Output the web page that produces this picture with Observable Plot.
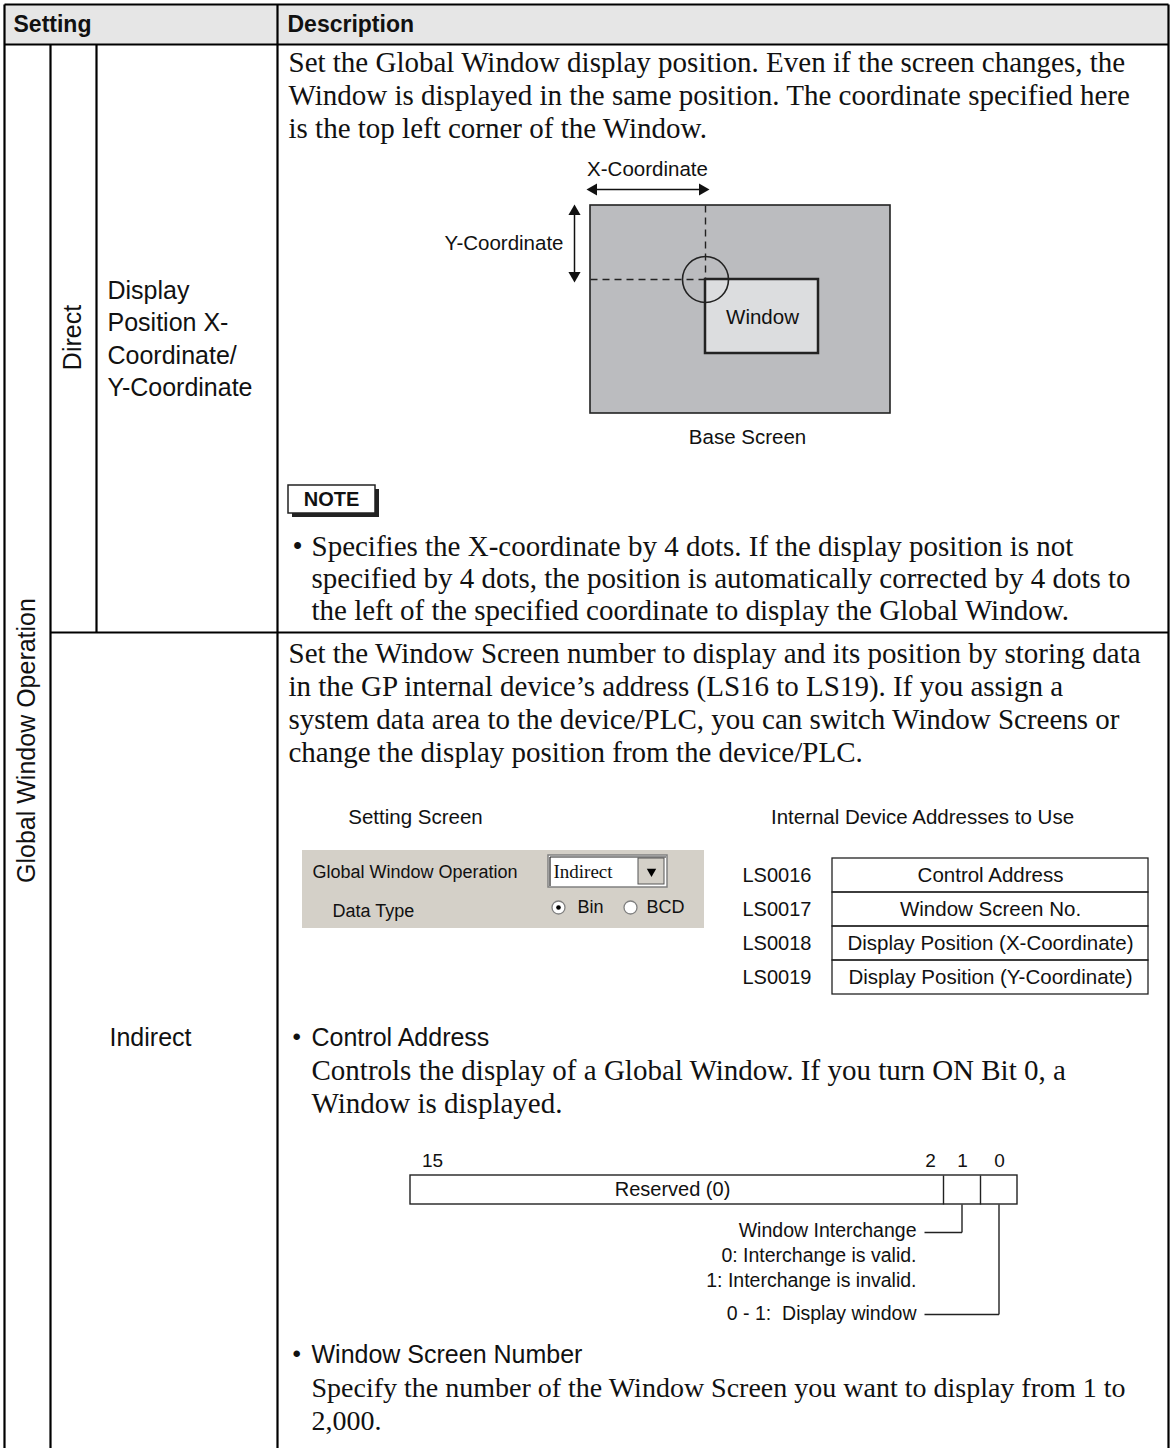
<!DOCTYPE html>
<html><head><meta charset="utf-8">
<script src="https://cdn.jsdelivr.net/npm/d3@7"></script>
<script src="https://cdn.jsdelivr.net/npm/@observablehq/plot@0.6"></script>
<style>html,body{margin:0;padding:0;background:#fff;} svg{display:block;}</style>
</head><body><div id="chart"></div>
<script>
// ---------- content ----------
const headerLabels = ["Setting", "Description"];
const groupLabel = ["Global Window Operation"];
const modeLabels = ["Direct", "Indirect"];
const directItemLines = ["Display", "Position X-", "Coordinate/", "Y-Coordinate"];
const directDescLines = [
  "Set the Global Window display position. Even if the screen changes, the",
  "Window is displayed in the same position. The coordinate specified here",
  "is the top left corner of the Window."];
const diagramLabels = ["X-Coordinate", "Y-Coordinate", "Window", "Base Screen"];
const noteLabel = ["NOTE"];
const noteLines = [
  "Specifies the X-coordinate by 4 dots. If the display position is not",
  "specified by 4 dots, the position is automatically corrected by 4 dots to",
  "the left of the specified coordinate to display the Global Window."];
const indirectDescLines = [
  "Set the Window Screen number to display and its position by storing data",
  "in the GP internal device\u2019s address (LS16 to LS19). If you assign a",
  "system data area to the device/PLC, you can switch Window Screens or",
  "change the display position from the device/PLC."];
const figureTitles = ["Setting Screen", "Internal Device Addresses to Use"];
const panelLabels = ["Global Window Operation", "Data Type"];
const dropdownValue = ["Indirect"];
const radioOptions = ["Bin", "BCD"];
const addressIds = ["LS0016", "LS0017", "LS0018", "LS0019"];
const addressNames = ["Control Address", "Window Screen No.", "Display Position (X-Coordinate)", "Display Position (Y-Coordinate)"];
const controlHeading = ["Control Address"];
const controlDescLines = ["Controls the display of a Global Window. If you turn ON Bit 0, a", "Window is displayed."];
const bitNumbers = ["15", "2", "1", "0"];
const reservedLabel = ["Reserved (0)"];
const bit1Lines = ["Window Interchange", "0: Interchange is valid.", "1: Interchange is invalid."];
const bit0Lines = ["0 - 1:  Display window"];
const screenNoHeading = ["Window Screen Number"];
const screenNoDescLines = ["Specify the number of the Window Screen you want to display from 1 to", "2,000."];

// ---------- layout ----------
const W = 1172, H = 1448;
const SERIF = "'Liberation Serif','Times New Roman',serif";
const SANS = "'Liberation Sans',Arial,Helvetica,sans-serif";
const INK = "#111";
const BODY = 29;
const L = {left: 4, right: 1168, top: 4, headBottom: 44, c1: 50, c2: 96, c3: 277, rowSplit: 632};

const place = (arr, x, y0, step = 0) => arr.map((t, i) => ({t, x: Array.isArray(x) ? x[i] : x, y: Array.isArray(y0) ? y0[i] : y0 + i * step}));
const txt = (data, o) => Plot.text(data, {x: "x", y: "y", text: "t", fill: INK, lineAnchor: "middle", ...o});
const seg = (arr) => arr.map(([x1, y1, x2, y2]) => ({x1, y1, x2, y2}));
const links = (arr, o) => Plot.link(seg(arr), {x1: "x1", y1: "y1", x2: "x2", y2: "y2", ...o});
const box = (arr, o) => Plot.rect(seg(arr), {x1: "x1", y1: "y1", x2: "x2", y2: "y2", ...o});

const addrRows = [858, 892, 926, 960, 994];
const addrMid = addressIds.map((_, i) => (addrRows[i] + addrRows[i + 1]) / 2);

const marks = [
  // header band
  box([[L.left, L.top, L.right, L.headBottom]], {fill: "#e6e6e6"}),
  // Direct diagram
  box([[590, 205, 890, 413]], {fill: "#bbbcbf", stroke: "#222", strokeWidth: 1.6}),
  links([[705, 205, 705, 279], [590, 279, 705, 279]], {stroke: "#222", strokeWidth: 1.4, strokeDasharray: "7,5"}),
  box([[705, 279, 818, 353]], {fill: "#dcdddf", stroke: "#222", strokeWidth: 2.5}),
  Plot.dot([{x: 705, y: 279}], {x: "x", y: "y", r: 23, stroke: "#222", strokeWidth: 1.6, fill: "none"}),
  links([[594, 189, 701, 189], [574, 212, 574, 273]], {stroke: "#111", strokeWidth: 1.5}),
  Plot.dot([{x: 593, y: 189, a: -90}, {x: 702, y: 189, a: 90}, {x: 574, y: 211, a: 0}, {x: 574, y: 275, a: 180}],
    {x: "x", y: "y", rotate: "a", symbol: "triangle", r: 4.5, fill: "#111", stroke: "none"}),
  txt(place([diagramLabels[0]], 647, 169), {fontFamily: SANS, fontSize: 20.5}),
  txt(place([diagramLabels[1]], 563, 243), {fontFamily: SANS, fontSize: 20.5, textAnchor: "end"}),
  txt(place([diagramLabels[2]], 762, 317), {fontFamily: SANS, fontSize: 20.5}),
  txt(place([diagramLabels[3]], 747, 437), {fontFamily: SANS, fontSize: 20.5}),
  // NOTE box
  box([[292, 489, 379, 517]], {fill: "#222"}),
  box([[288, 485, 375, 513]], {fill: "#fff", stroke: "#222", strokeWidth: 1.5}),
  txt(place(noteLabel, 331, 499), {fontFamily: SANS, fontSize: 20, fontWeight: "bold"}),
  txt(place(["\u2022"], 292, 546), {fontFamily: SERIF, fontSize: BODY, textAnchor: "start"}),
  txt(place(noteLines, 311, 546, 32), {fontFamily: SERIF, fontSize: BODY, textAnchor: "start"}),
  // Setting screen panel
  box([[302, 850, 704, 928]], {fill: "#d4d0c8"}),
  box([[548, 855, 667, 887]], {fill: "#fff", stroke: "#808080", strokeWidth: 1.5}),
  links([[549.5, 856.5, 665.5, 856.5], [549.5, 856.5, 549.5, 885.5]], {stroke: "#222", strokeWidth: 1.2}),
  box([[638, 858, 664, 884]], {fill: "#d4d0c8", stroke: "#555", strokeWidth: 1}),
  Plot.dot([{x: 651, y: 871}], {x: "x", y: "y", symbol: "triangle", rotate: 180, r: 3.5, fill: "#000", stroke: "none"}),
  txt(place(panelLabels, [312, 332], [872, 911]), {fontFamily: SANS, fontSize: 18, textAnchor: "start"}),
  txt(place(dropdownValue, 553, 871), {fontFamily: SERIF, fontSize: 19, textAnchor: "start"}),
  Plot.dot([{x: 558, y: 907}, {x: 630, y: 907}], {x: "x", y: "y", r: 6.5, fill: "#fff", stroke: "#808080", strokeWidth: 1.3}),
  Plot.dot([{x: 558, y: 907}], {x: "x", y: "y", r: 2.3, fill: "#000"}),
  txt(place(radioOptions, [577, 646], 907), {fontFamily: SANS, fontSize: 18, textAnchor: "start"}),
  // address table
  box(addressIds.map((_, i) => [832, addrRows[i], 1148, addrRows[i + 1]]), {fill: "none", stroke: "#222", strokeWidth: 1.3}),
  txt(place(addressIds, 742, addrMid), {fontFamily: SANS, fontSize: 20, textAnchor: "start"}),
  txt(place(addressNames, 990, addrMid), {fontFamily: SANS, fontSize: 20.5}),
  txt(place(figureTitles, [415, 922], 817), {fontFamily: SANS, fontSize: 20.5}),
  // bit diagram
  box([[410, 1175, 1017, 1204]], {fill: "#fff", stroke: "#222", strokeWidth: 1.4}),
  links([[943, 1175, 943, 1204], [980, 1175, 980, 1204],
         [924, 1232, 961.5, 1232], [961.5, 1204, 961.5, 1232],
         [924, 1314, 998.5, 1314], [998.5, 1204, 998.5, 1314]], {stroke: "#222", strokeWidth: 1.4}),
  txt(place(bitNumbers, [432, 930, 962, 999], 1160), {fontFamily: SANS, fontSize: 19}),
  txt(place(reservedLabel, 672, 1189), {fontFamily: SANS, fontSize: 20}),
  txt(place(bit1Lines, 916, 1230, 25), {fontFamily: SANS, fontSize: 19.5, textAnchor: "end"}),
  txt(place(bit0Lines, 916, 1313), {fontFamily: SANS, fontSize: 19.5, textAnchor: "end"}),
  // text of descriptions
  txt(place(directDescLines, 288, 62, 33), {fontFamily: SERIF, fontSize: BODY, textAnchor: "start"}),
  txt(place(indirectDescLines, 288, 653, 33), {fontFamily: SERIF, fontSize: BODY, textAnchor: "start"}),
  txt(place(["\u2022", "\u2022"], 292, [1037, 1354]), {fontFamily: SANS, fontSize: 24, textAnchor: "start"}),
  txt(place(controlHeading, 311, 1037), {fontFamily: SANS, fontSize: 25, textAnchor: "start"}),
  txt(place(controlDescLines, 311, 1070, 33), {fontFamily: SERIF, fontSize: BODY, textAnchor: "start"}),
  txt(place(screenNoHeading, 311, 1354), {fontFamily: SANS, fontSize: 25, textAnchor: "start"}),
  txt(place(screenNoDescLines, 311, 1388, 33), {fontFamily: SERIF, fontSize: 28, textAnchor: "start"}),
  // setting column
  txt(place([headerLabels[0]], 13, 24), {fontFamily: SANS, fontSize: 23, fontWeight: "bold", textAnchor: "start"}),
  txt(place([headerLabels[1]], 287, 24), {fontFamily: SANS, fontSize: 23, fontWeight: "bold", textAnchor: "start"}),
  txt(place(groupLabel, 26, 740), {fontFamily: SANS, fontSize: 25, rotate: -90}),
  txt(place([modeLabels[0]], 72, 337), {fontFamily: SANS, fontSize: 25, rotate: -90}),
  txt(place([modeLabels[1]], 109, 1037), {fontFamily: SANS, fontSize: 25, textAnchor: "start"}),
  txt(place(directItemLines, 107, 290, 32.5), {fontFamily: SANS, fontSize: 25, textAnchor: "start"}),
  // table grid
  links([[L.left, L.top, L.right, L.top], [L.left, L.headBottom, L.right, L.headBottom],
         [L.left, L.top, L.left, H], [L.right, L.top, L.right, H], [L.c3, L.top, L.c3, H],
         [L.c1, L.headBottom, L.c1, H], [L.c2, L.headBottom, L.c2, L.rowSplit], [L.c1, L.rowSplit, L.right, L.rowSplit]],
        {stroke: "#000", strokeWidth: 2.2})
];

const chart = Plot.plot({
  width: W, height: H, margin: 0,
  x: {domain: [0, W], range: [0, W], axis: null},
  y: {domain: [0, H], range: [0, H], axis: null},
  style: {background: "#fff", color: INK},
  marks
});
document.getElementById("chart").appendChild(chart);
</script>
</body></html>
